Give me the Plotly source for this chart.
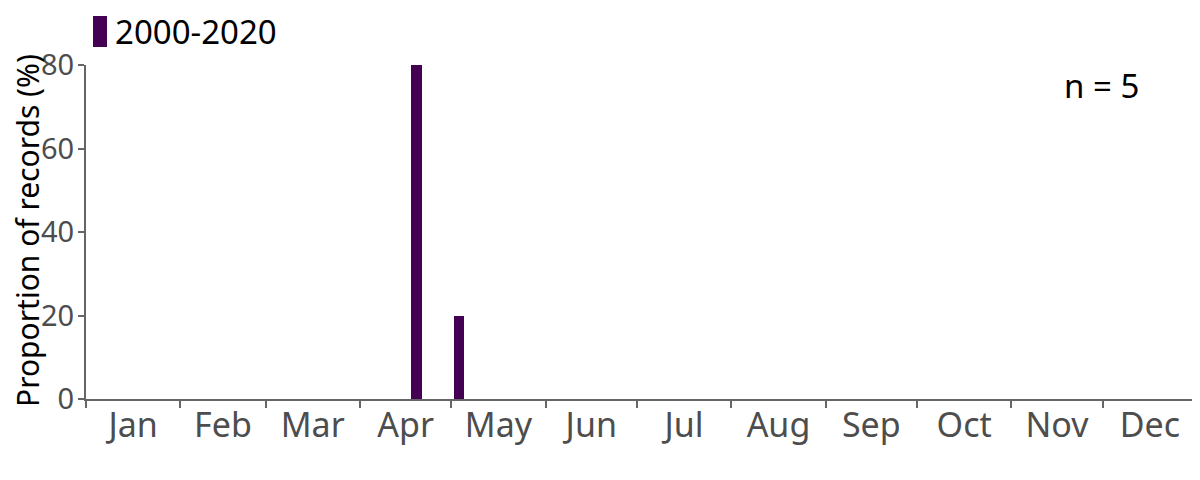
import plotly.graph_objects as go

months = ["Jan", "Feb", "Mar", "Apr", "May", "Jun", "Jul", "Aug", "Sep", "Oct", "Nov", "Dec"]
month_days = [31, 28, 31, 30, 31, 30, 31, 31, 30, 31, 30, 31]
weeks = [16, 18]            # week of year (1-based) with records
proportion = [80, 20]       # % of records
series_name = "2000-2020"
n_records = 5
y_title = "Proportion of records (%)"

bar_color = "#440154"
grey = "#4d4d4d"
axis_col = "#666666"
font_family = "Noto Sans, DejaVu Sans, sans-serif"

# day-of-year positions derived from the data
bounds = [0]
for d in month_days:
    bounds.append(bounds[-1] + d)
mids = [(bounds[i] + bounds[i + 1]) / 2 for i in range(12)]
week_centers = [(w - 1) * 7 + 3.5 for w in weeks]

fig = go.Figure()
fig.add_trace(go.Bar(x=week_centers, y=proportion, width=3.5, name=series_name,
                     marker=dict(color=bar_color, line=dict(width=0)), showlegend=False))

# the page body adds an 8px offset, so the figure is sized 1192x472
fig.update_layout(
    width=1192, height=472,
    margin=dict(l=78, r=3, t=57, b=81, pad=0),
    paper_bgcolor="white", plot_bgcolor="white",
    font=dict(family=font_family, size=33, color="black"),
    xaxis=dict(range=[0, 365], tickmode="array", tickvals=mids, ticktext=months,
               ticks="", showgrid=False, zeroline=False, showline=True,
               linecolor=axis_col, linewidth=2, automargin=False,
               ticklabelstandoff=-5,
               tickfont=dict(color=grey, size=34),
               minor=dict(tickmode="array", tickvals=bounds, ticks="outside",
                          ticklen=7, tickwidth=2, tickcolor=axis_col, showgrid=False)),
    yaxis=dict(range=[0, 80], tickvals=[0, 20, 40, 60, 80], ticks="outside",
               ticklen=6, tickwidth=2, tickcolor=axis_col, showline=True,
               linecolor=axis_col, linewidth=2, showgrid=False, zeroline=False,
               automargin=False, ticklabelstandoff=-2,
               tickfont=dict(color=grey, size=29)),
    bargap=0,
)

# y-axis title
fig.add_annotation(text=y_title, xref="paper", yref="paper", textangle=-90,
                   x=(27 - 86) / 1111, y=(399 - 231) / 334, xanchor="center", yanchor="middle",
                   showarrow=False, font=dict(size=30, color="black"))
# legend key and label
fig.add_shape(type="rect", xref="paper", yref="paper",
              x0=(93 - 86) / 1111, x1=(107 - 86) / 1111,
              y0=(399 - 47) / 334, y1=(399 - 16) / 334,
              fillcolor=bar_color, line=dict(width=0))
fig.add_annotation(text=series_name, xref="paper", yref="paper",
                   x=(113 - 86) / 1111, y=(399 - 32) / 334, xanchor="left", yanchor="middle",
                   showarrow=False, font=dict(size=33, color="black"))
fig.add_annotation(text=f"n = {n_records}", xref="paper", yref="paper",
                   x=(1101 - 86) / 1111, y=(399 - 85) / 334, xanchor="center", yanchor="middle",
                   showarrow=False, font=dict(size=33, color="black"))

fig.write_html("out.html")
